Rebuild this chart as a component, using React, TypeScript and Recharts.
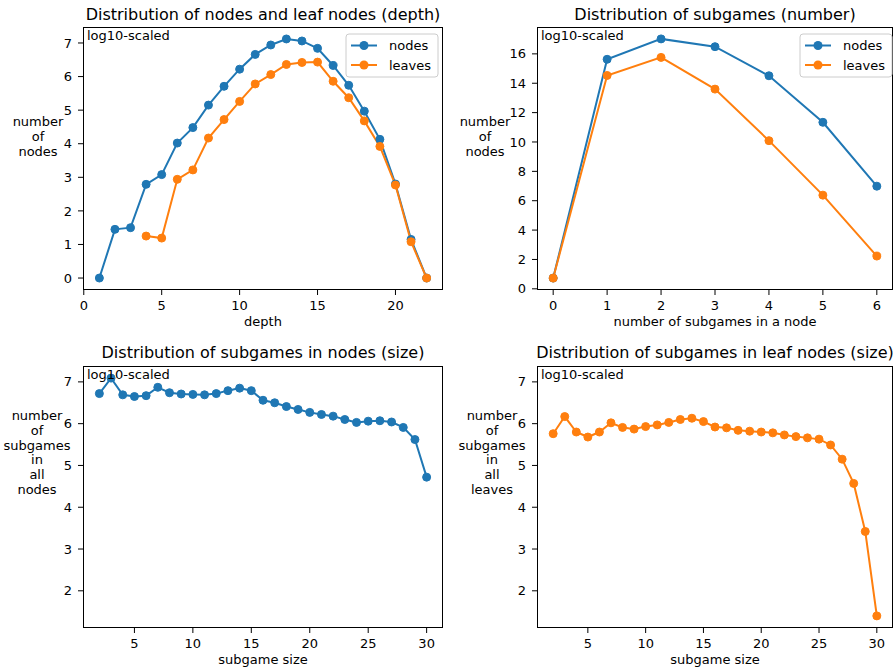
import React from "react";
import { Line, LineChart, XAxis, YAxis } from "recharts";

// values are log10 counts
const depths = [1, 2, 3, 4, 5, 6, 7, 8, 9, 10, 11, 12, 13, 14, 15, 16, 17, 18, 19, 20, 21, 22];
const nodesByDepth = [0, 1.45, 1.5, 2.79, 3.08, 4.02, 4.48, 5.15, 5.71, 6.22, 6.66, 6.94, 7.12, 7.06, 6.84, 6.33, 5.74, 4.97, 4.13, 2.8, 1.15, 0];
const leavesByDepth = [null, null, null, 1.25, 1.19, 2.94, 3.22, 4.17, 4.72, 5.26, 5.78, 6.06, 6.36, 6.42, 6.43, 5.86, 5.37, 4.68, 3.92, 2.77, 1.08, 0];

const subgameCounts = [0, 1, 2, 3, 4, 5, 6];
const nodesByCount = [0.73, 15.63, 17.02, 16.49, 14.51, 11.34, 6.99];
const leavesByCount = [0.73, 14.53, 15.76, 13.6, 10.09, 6.38, 2.23];

const sizes = [2, 3, 4, 5, 6, 7, 8, 9, 10, 11, 12, 13, 14, 15, 16, 17, 18, 19, 20, 21, 22, 23, 24, 25, 26, 27, 28, 29, 30];
const nodesBySize = [6.72, 7.09, 6.69, 6.65, 6.67, 6.87, 6.74, 6.71, 6.7, 6.69, 6.72, 6.79, 6.85, 6.79, 6.56, 6.5, 6.41, 6.34, 6.27, 6.22, 6.18, 6.1, 6.03, 6.06, 6.07, 6.04, 5.91, 5.62, 4.72];
const leavesBySize = [5.76, 6.17, 5.8, 5.68, 5.8, 6.02, 5.91, 5.87, 5.93, 5.97, 6.03, 6.1, 6.13, 6.05, 5.92, 5.9, 5.84, 5.82, 5.8, 5.78, 5.73, 5.69, 5.66, 5.63, 5.49, 5.15, 4.57, 3.42, 1.4];

const depthTicks = [0, 5, 10, 15, 20];
const depthValueTicks = [0, 1, 2, 3, 4, 5, 6, 7];
const countTicks = [0, 1, 2, 3, 4, 5, 6];
const countValueTicks = [0, 2, 4, 6, 8, 10, 12, 14, 16];
const sizeTicks = [5, 10, 15, 20, 25, 30];
const sizeValueTicks = [2, 3, 4, 5, 6, 7];

const BLUE = "#1f77b4";
const ORANGE = "#ff7f0e";
const FONT = "DejaVu Sans, sans-serif";

const depthRows = depths.map((d, i) => ({ x: d, nodes: nodesByDepth[i], leaves: leavesByDepth[i] }));
const countRows = subgameCounts.map((c, i) => ({ x: c, nodes: nodesByCount[i], leaves: leavesByCount[i] }));
const sizeRows = sizes.map((s, i) => ({ x: s, nodes: nodesBySize[i], leaves: leavesBySize[i] }));

type Rect = { l: number; t: number; r: number; b: number };

const P1: Rect = { l: 83, t: 27, r: 443, b: 290 };
const P2: Rect = { l: 537, t: 27, r: 893, b: 290 };
const P3: Rect = { l: 83, t: 366, r: 443, b: 628 };
const P4: Rect = { l: 537, t: 366, r: 893, b: 628 };

interface PanelProps {
  rect: Rect;
  data: Record<string, number | null>[];
  xDomain: [number, number];
  xTicks: number[];
  yDomain: [number, number];
  yTicks: number[];
  series: { key: string; color: string }[];
}

function Panel({ rect, data, xDomain, xTicks, yDomain, yTicks, series }: PanelProps) {
  const ML = 40;
  const MT = 10;
  const MR = 10;
  const MB = 30;
  const width = rect.r - rect.l + ML + MR;
  const height = rect.b - rect.t + MT + MB;
  const tick = { fill: "#000", fontSize: 13, fontFamily: FONT };

  return (
    <div style={{ position: "absolute", left: rect.l - ML, top: rect.t - MT }}>
      <LineChart width={width} height={height} data={data} margin={{ top: MT, right: MR, bottom: 0, left: 0 }}>
        <XAxis
          dataKey="x"
          type="number"
          domain={xDomain}
          allowDataOverflow
          ticks={xTicks}
          height={MB}
          tick={tick}
          tickSize={5}
          tickMargin={6}
          axisLine={false}
          tickLine={{ stroke: "#000" }}
        />
        <YAxis
          type="number"
          domain={yDomain}
          allowDataOverflow
          ticks={yTicks}
          width={ML}
          tick={tick}
          tickSize={5}
          tickMargin={6}
          axisLine={false}
          tickLine={{ stroke: "#000" }}
        />
        {series.map((s) => (
          <Line
            key={s.key}
            type="linear"
            dataKey={s.key}
            stroke={s.color}
            strokeWidth={2}
            dot={{ r: 4, fill: s.color, stroke: s.color, strokeWidth: 1 }}
            activeDot={false}
            isAnimationActive={false}
          />
        ))}
      </LineChart>
    </div>
  );
}

function YLabel({ x, bottom, lines }: { x: number; bottom: number; lines: string[] }) {
  const step = 14.8;
  return (
    <text x={x} textAnchor="middle" fontSize={13}>
      {lines.map((ln, i) => (
        <tspan key={i} x={x} y={bottom - (lines.length - 1 - i) * step}>
          {ln}
        </tspan>
      ))}
    </text>
  );
}

function LegendBox({ x, y }: { x: number; y: number }) {
  const rows = [
    { label: "nodes", color: BLUE },
    { label: "leaves", color: ORANGE },
  ];
  return (
    <g>
      <rect x={x} y={y} width={92} height={43} rx={3} fill="#fff" fillOpacity={0.8} stroke="#cccccc" />
      {rows.map((row, i) => {
        const cy = y + 11.5 + i * 19.5;
        return (
          <g key={row.label}>
            <line x1={x + 5} x2={x + 31} y1={cy} y2={cy} stroke={row.color} strokeWidth={2} />
            <circle cx={x + 18} cy={cy} r={4.5} fill={row.color} />
            <text x={x + 43} y={cy + 4.5} fontSize={13}>
              {row.label}
            </text>
          </g>
        );
      })}
    </g>
  );
}

export default function App() {
  const mid = (r: Rect) => (r.l + r.r) / 2;
  const vmid = (r: Rect) => (r.t + r.b) / 2;
  return (
    <div
      style={{
        position: "absolute",
        left: 0,
        top: 0,
        width: 896,
        height: 672,
        overflow: "hidden",
        background: "#fff",
        fontFamily: FONT,
      }}
    >
      <Panel
        rect={P1}
        data={depthRows}
        xDomain={[-0.05, 23.05]}
        xTicks={depthTicks}
        yDomain={[-0.356, 7.476]}
        yTicks={depthValueTicks}
        series={[
          { key: "nodes", color: BLUE },
          { key: "leaves", color: ORANGE },
        ]}
      />
      <Panel
        rect={P2}
        data={countRows}
        xDomain={[-0.3, 6.3]}
        xTicks={countTicks}
        yDomain={[-0.08, 17.83]}
        yTicks={countValueTicks}
        series={[
          { key: "nodes", color: BLUE },
          { key: "leaves", color: ORANGE },
        ]}
      />
      <Panel
        rect={P3}
        data={sizeRows}
        xDomain={[0.6, 31.4]}
        xTicks={sizeTicks}
        yDomain={[1.11, 7.38]}
        yTicks={sizeValueTicks}
        series={[{ key: "nodes", color: BLUE }]}
      />
      <Panel
        rect={P4}
        data={sizeRows}
        xDomain={[0.6, 31.4]}
        xTicks={sizeTicks}
        yDomain={[1.11, 7.38]}
        yTicks={sizeValueTicks}
        series={[{ key: "leaves", color: ORANGE }]}
      />
      <svg
        width={896}
        height={672}
        style={{ position: "absolute", left: 0, top: 0, pointerEvents: "none" }}
        fontFamily={FONT}
        fill="#000"
      >
        {[P1, P2, P3, P4].map((p, i) => (
          <rect
            key={"frame" + i}
            x={p.l + 0.5}
            y={p.t + 0.5}
            width={p.r - p.l - 1}
            height={p.b - p.t - 1}
            fill="none"
            stroke="#000"
            strokeWidth={1}
          />
        ))}

        <text x={mid(P1)} y={20} textAnchor="middle" fontSize={16}>
          Distribution of nodes and leaf nodes (depth)
        </text>
        <text x={mid(P2)} y={20} textAnchor="middle" fontSize={16}>
          Distribution of subgames (number)
        </text>
        <text x={mid(P3)} y={358} textAnchor="middle" fontSize={16}>
          Distribution of subgames in nodes (size)
        </text>
        <text x={mid(P4)} y={358} textAnchor="middle" fontSize={16}>
          Distribution of subgames in leaf nodes (size)
        </text>

        <text x={mid(P1)} y={326} textAnchor="middle" fontSize={13}>depth</text>
        <text x={mid(P2)} y={326} textAnchor="middle" fontSize={13}>number of subgames in a node</text>
        <text x={mid(P3)} y={664} textAnchor="middle" fontSize={13}>subgame size</text>
        <text x={mid(P4)} y={664} textAnchor="middle" fontSize={13}>subgame size</text>

        <YLabel x={38} bottom={vmid(P1) - 3} lines={["number", "of", "nodes"]} />
        <YLabel x={485} bottom={vmid(P2) - 3} lines={["number", "of", "nodes"]} />
        <YLabel x={37} bottom={vmid(P3) - 3} lines={["number", "of", "subgames", "in", "all", "nodes"]} />
        <YLabel x={492} bottom={vmid(P4) - 3} lines={["number", "of", "subgames", "in", "all", "leaves"]} />

        {[P1, P2, P3, P4].map((p, i) => (
          <text key={i} x={p.l + 4} y={p.t + 13} fontSize={13}>
            log10-scaled
          </text>
        ))}

        <LegendBox x={346} y={34} />
        <LegendBox x={800} y={34} />
      </svg>
    </div>
  );
}
